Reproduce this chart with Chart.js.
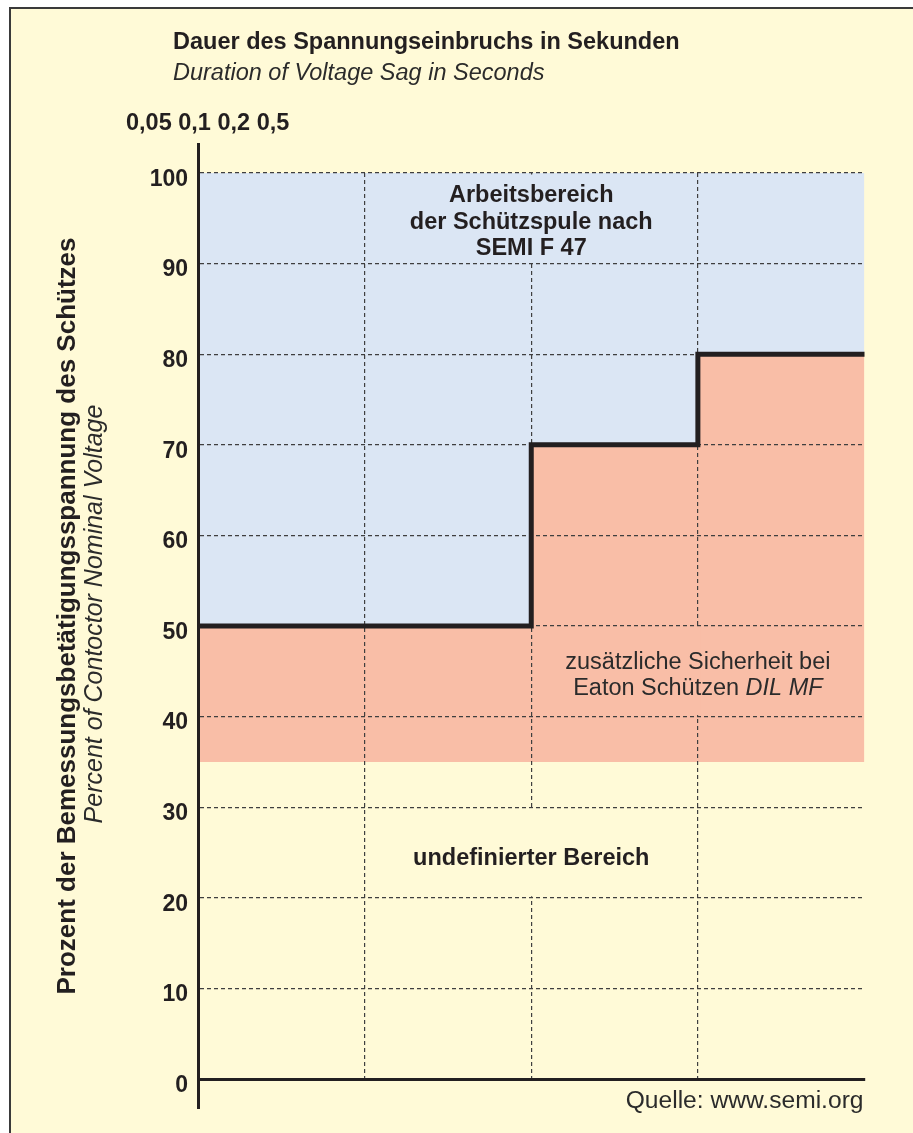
<!DOCTYPE html>
<html><head><meta charset="utf-8">
<script src="https://cdn.jsdelivr.net/npm/chart.js@4.4.1/dist/chart.umd.min.js"></script>
<style>
html,body{margin:0;padding:0;width:913px;height:1133px;overflow:hidden;background:#fff;}
#frame{position:absolute;left:9px;top:7px;width:904px;height:1126px;background:#fffad7;border-top:2px solid #3a3a3a;border-left:2px solid #3a3a3a;box-sizing:border-box;}
#c{position:absolute;left:0;top:0;}
.t{position:absolute;white-space:nowrap;color:#231f20;font-family:"Liberation Sans",Arial,sans-serif;line-height:1;}
.rot{transform:translate(-50%,-50%) rotate(-90deg);transform-origin:50% 50%;}
</style></head>
<body>
<div id="frame"></div>
<canvas id="c" width="913" height="1133" style="width:913px;height:1133px"></canvas>
<div class="t" id="title" style="left:173px;top:30px;font-weight:bold;font-size:23.5px;">Dauer des Spannungseinbruchs in Sekunden</div>
<div class="t" id="subtitle" style="left:173px;top:61px;font-style:italic;font-size:23.5px;color:#2b2b2b;">Duration of Voltage Sag in Seconds</div>
<div class="t" id="xlabels" style="left:126px;top:110.5px;font-weight:bold;font-size:23.5px;"></div>
<div class="t rot" id="ylab1" style="left:66px;top:616px;font-weight:bold;font-size:26px;">Prozent der Bemessungsbetätigungsspannung des Schützes</div>
<div class="t rot" id="ylab2" style="left:93px;top:614px;font-style:italic;font-size:25px;color:#2b2b2b;">Percent of Contoctor Nominal Voltage</div>
<script>
// ---- data ----
const durationLabels = ['0,05', '0,1', '0,2', '0,5'];      // tick labels of the duration axis (s)
const durationGrid = [0, 1, 2, 3, 4];                        // duration grid positions
const voltageTicks = [0, 10, 20, 30, 40, 50, 60, 70, 80, 90, 100];
const semiX = [0, 2, 2, 3, 3, 4];                            // SEMI F 47 limit curve
const semiY = [50, 50, 70, 70, 80, 80];
const eatonFloor = 35;                                       // lower edge of Eaton DIL MF margin (%)
const ratedVoltage = 100;                                    // top of working range (%)

document.getElementById('xlabels').textContent = durationLabels.join(' ');

const ink = '#231f20';
const FONT = '"Liberation Sans", Arial, sans-serif';
const gridCol = '#3f3f3f';
const blue = '#dbe6f4', salmon = '#f9bea7', paper = '#fffad7';

const overlay = {
  id: 'overlay',
  beforeDatasetDraw(chart, args) {
    if (chart.data.datasets[args.index].deferred) return false;
  },
  afterDraw(chart) {
    const {ctx, chartArea: a, scales: {x, y}} = chart;
    // text backdrops hide the vertical grid segment behind each label block
    const masks = [[2, 90, 100, blue], [3, 40, 50, salmon], [2, 20, 30, paper]];
    ctx.save();
    masks.forEach(([xv, y0, y1, col]) => {
      const px = x.getPixelForValue(xv);
      const top = y.getPixelForValue(y1) + 1.5, bot = y.getPixelForValue(y0) - 1.5;
      ctx.fillStyle = col;
      ctx.fillRect(px - 3, top, 6, bot - top);
    });
    ctx.restore();

    chart.data.datasets.forEach((ds, i) => {
      if (ds.deferred) {
        const meta = chart.getDatasetMeta(i);
        ctx.save(); meta.dataset.draw(ctx, a); ctx.restore();
      }
    });
    // vertical axis line extends beyond the plot
    ctx.save();
    ctx.strokeStyle = ink; ctx.lineWidth = 3;
    ctx.beginPath();
    ctx.moveTo(Math.floor(a.left) + 0.5, a.top - 30);
    ctx.lineTo(Math.floor(a.left) + 0.5, a.bottom + 30);
    ctx.stroke();
    ctx.restore();

    ctx.save();
    ctx.fillStyle = ink;
    ctx.textBaseline = 'alphabetic';
    ctx.textAlign = 'center';
    const bold = 'bold 23.5px ' + FONT;
    const reg = '23.5px ' + FONT;
    const ital = 'italic 23.5px ' + FONT;
    const cx2 = x.getPixelForValue(2);
    const cx3 = x.getPixelForValue(3);
    const top = y.getPixelForValue(ratedVoltage);
    ctx.font = bold;
    ctx.fillText('Arbeitsbereich', cx2, top + 29);
    ctx.fillText('der Schützspule nach', cx2, top + 55.5);
    ctx.fillText('SEMI F 47', cx2, top + 82);
    ctx.fillText('undefinierter Bereich', cx2, y.getPixelForValue(20) - 33);

    ctx.fillStyle = '#2b2b2b';
    ctx.font = reg;
    const b40 = y.getPixelForValue(40);
    ctx.fillText('zusätzliche Sicherheit bei', cx3, b40 - 48);
    const parts = [['Eaton Schützen ', reg], ['DIL MF', ital]];
    let total = 0;
    parts.forEach(p => { ctx.font = p[1]; total += ctx.measureText(p[0]).width; });
    let px = cx3 - total / 2;
    ctx.textAlign = 'left';
    parts.forEach(p => { ctx.font = p[1]; ctx.fillText(p[0], px, b40 - 22); px += ctx.measureText(p[0]).width; });

    ctx.textAlign = 'right';
    ctx.font = '24.6px ' + FONT;
    ctx.fillText('Quelle: www.semi.org', a.right - 1, a.bottom + 29);
    ctx.restore();
  }
};

const pts = semiX.map((v, i) => ({x: v, y: semiY[i]}));

new Chart(document.getElementById('c'), {
  type: 'line',
  data: {
    datasets: [
      {label: 'Arbeitsbereich', data: pts, fill: {value: ratedVoltage}, backgroundColor: blue, borderWidth: 0, pointRadius: 0},
      {label: 'Eaton DIL MF', data: pts, fill: {value: eatonFloor}, backgroundColor: salmon, borderWidth: 0, pointRadius: 0},
      {label: 'SEMI F 47', data: pts, fill: false, borderColor: ink, borderWidth: 5, pointRadius: 0,
       borderJoinStyle: 'miter', borderCapStyle: 'butt', deferred: true}
    ]
  },
  options: {
    responsive: false,
    animation: false,
    events: [],
    layout: {padding: {left: 0, right: 48.5, top: 173, bottom: 54}},
    plugins: {legend: {display: false}, tooltip: {enabled: false}, title: {display: false}},
    scales: {
      x: {
        type: 'linear', min: 0, max: 4,
        afterBuildTicks: s => { s.ticks = durationGrid.map(v => ({value: v})); },
        ticks: {display: false},
        grid: {z: 1, drawTicks: false, lineWidth: 1.2,
               color: c => (c.tick && c.tick.value > 0 && c.tick.value < 4) ? gridCol : 'rgba(0,0,0,0)'},
        border: {z: 1, display: true, color: ink, width: 3, dash: [4, 3]},
        afterFit: s => { s.height = 0; }
      },
      y: {
        type: 'linear', min: 0, max: 100,
        afterBuildTicks: s => { s.ticks = voltageTicks.map(v => ({value: v})); },
        ticks: {color: ink, font: {family: FONT, size: 23, weight: 'bold'}, padding: 10, labelOffset: 6.5},
        grid: {z: 1, drawTicks: false, lineWidth: 1.2,
               color: c => (c.tick && c.tick.value > 0) ? gridCol : 'rgba(0,0,0,0)'},
        border: {z: 1, display: true, color: ink, width: 3, dash: [4, 3]},
        afterFit: s => { s.width = 198; }
      }
    }
  },
  plugins: [overlay]
});
</script>
</body></html>
